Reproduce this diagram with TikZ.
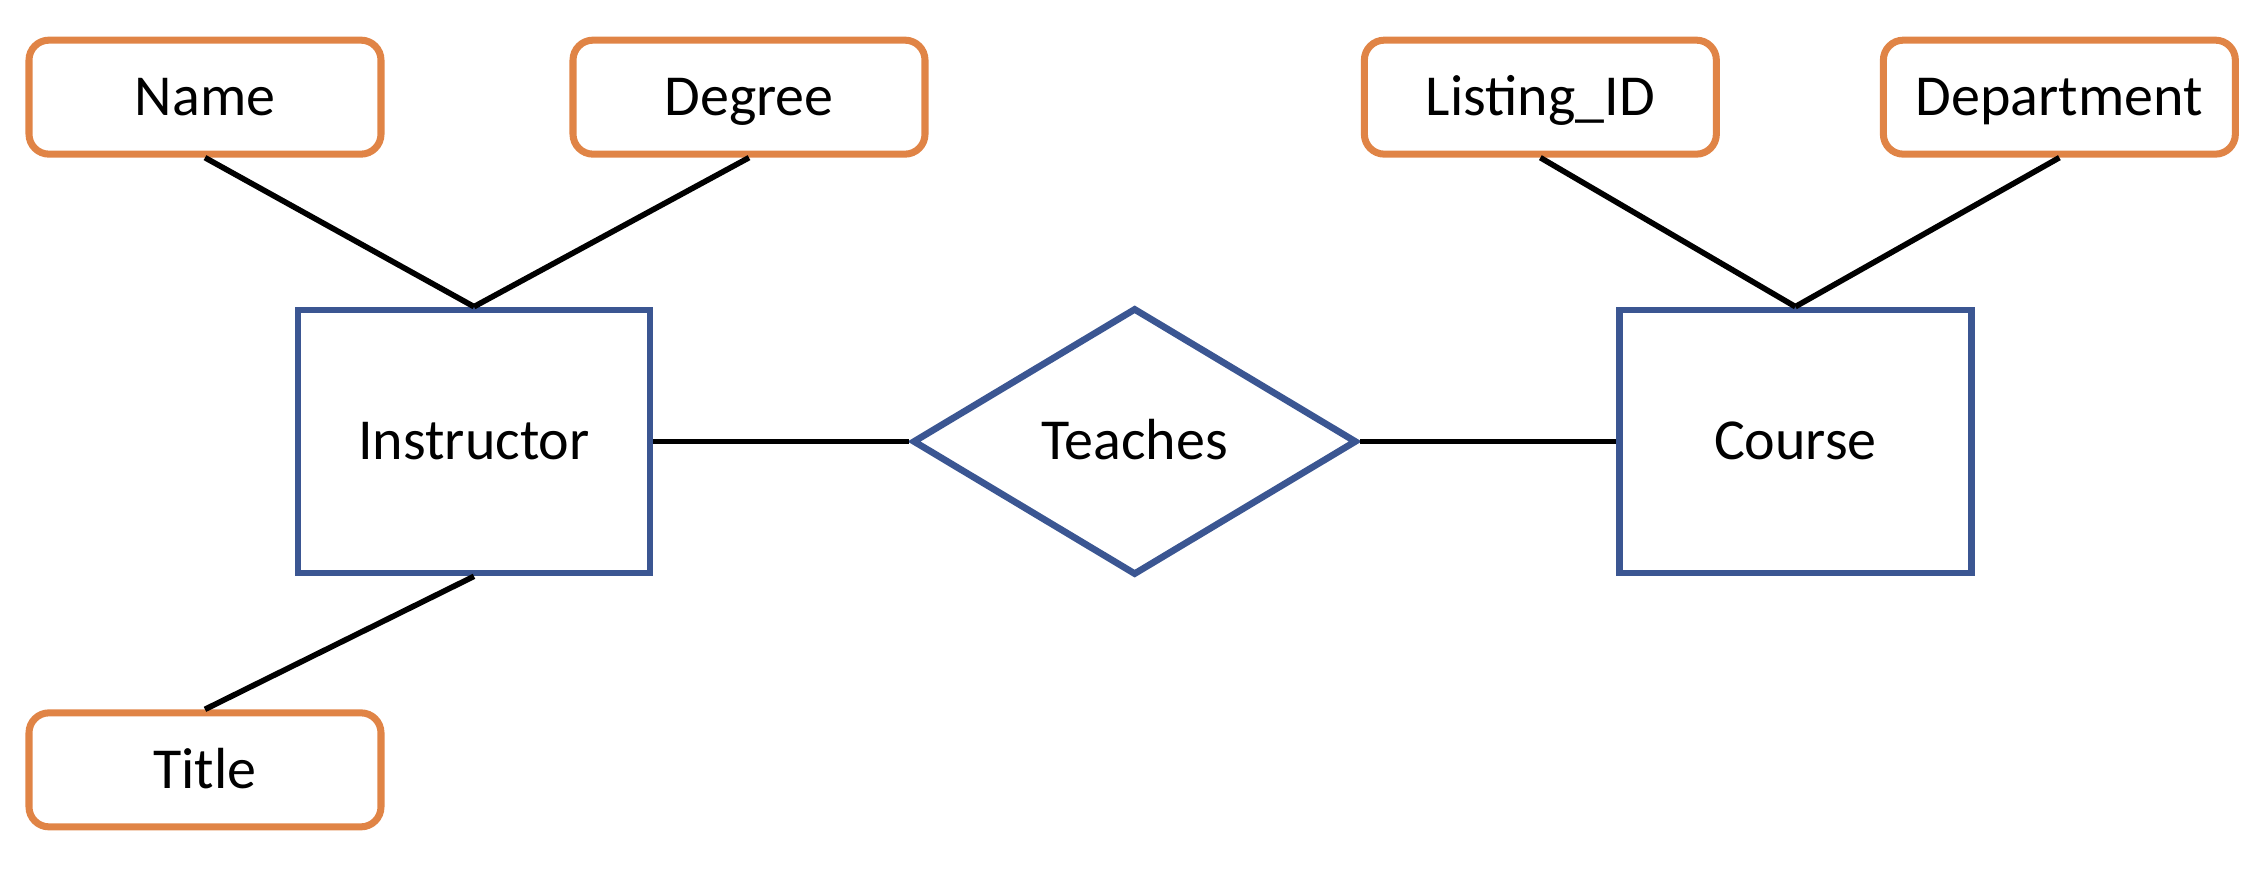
\documentclass[tikz,border=0pt]{standalone}
\usepackage{fontspec}
\setmainfont{Carlito}
\usepackage{tikz}
\usetikzlibrary{shapes.geometric}
\usetikzlibrary{positioning}

\definecolor{attrorange}{RGB}{224,132,70}
\definecolor{entblue}{RGB}{59,86,146}

\begin{document}
\begin{tikzpicture}[-,line width=1.6pt,font=\fontsize{16.5}{19}\selectfont]
\tikzstyle{attr}=[draw=attrorange,line width=2pt,rounded corners=0.2cm,minimum width=3.52cm,minimum height=1.14cm,text height=2.6ex,text depth=0.4ex]
\tikzstyle{ent}=[draw=entblue,line width=1.9pt,minimum width=3.52cm,minimum height=2.63cm,text height=2.5ex,text depth=0.4ex]
\tikzstyle{rel}=[draw=entblue,line width=1.9pt,diamond,aspect=1.67,inner sep=0pt,minimum width=4.44cm,minimum height=2.67cm,text height=2.5ex,text depth=0.4ex]
\useasboundingbox (0,0) rectangle (22.66,8.68);
\node[ent]	(Instructor)	at (4.74,4.265)					{Instructor};
\node[rel]	(Teaches)	[right=2.56cm of Instructor]			{Teaches};
\node[ent]	(Course)	[right=2.56cm of Teaches]			{Course};
\node[attr]	(Name)		[above=1.49cm of Instructor, xshift=-2.69cm]	{Name};
\node[attr]	(Degree)	[above=1.49cm of Instructor, xshift=2.75cm]	{Degree};
\node[attr]	(Title)		[below=1.33cm of Instructor, xshift=-2.69cm]	{Title};
\node[attr]	(ListingID)	[above=1.49cm of Course, xshift=-2.55cm]	{Listing\_ID};
\node[attr]	(Department)	[above=1.49cm of Course, xshift=2.64cm]		{Department};

\path(Name.south)	edge	node	{}	(Instructor.north)
	 (Degree.south)	edge	node	{}	(Instructor.north)
	 (Title.north)	edge	node	{}	(Instructor.south)
	 (Instructor)	edge	node	{}	(Teaches)
	 (Teaches)	edge	node	{}	(Course)
	 (ListingID.south)	edge	node	{}	(Course.north)
	 (Department.south)	edge	node	{}	(Course.north);
\end{tikzpicture}
\end{document}
